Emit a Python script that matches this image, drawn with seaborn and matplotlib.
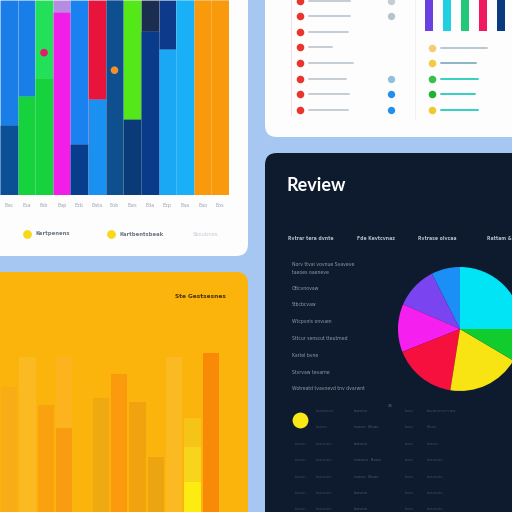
import numpy as np
import pandas as pd
import matplotlib.pyplot as plt
import seaborn as sns
from matplotlib.patches import FancyBboxPatch

sns.set_theme(style='white')
plt.rcParams['font.family'] = ['DejaVu Sans']

W = H = 512

# --- data -------------------------------------------------------------
# top-left stacked columns (percent of plot height)
col_labels = ["Eas", "Esa", "Fab", "Eap", "Ezb", "Eata", "Eob",
              "Ews", "Eda", "Ezp", "Eaa", "Eao", "Eos"]
col_top = [100] * 13
col_bottom = [36, 51, 60, 94, 26, 49, 100, 39, 84, 75, 100, 100, 100]
top_colors = ['#1a7ee8', '#1a7ee8', '#22e05a', '#b58ce0', '#1a82f0', '#e8143c', '#0d4f8f',
              '#55e818', '#1b2e50', '#0d3a8a', '#1ab0f8', '#f89a0c', '#f89a0c']
bottom_colors = ['#0b4f94', '#16d23c', '#16d23c', '#f01ee6', '#083c8c', '#1a90f0', '#0d4f8f',
                 '#0a3a78', '#0a3a8a', '#1aa8f5', '#1ab0f8', '#f89a0c', '#f89a0c']
marker_cols = ["Fab", "Eob"]
marker_vals = [73, 64]
marker_colors = ['#e8186a', '#f7902a']
legend_items = ["Kertpenens", "Kartbentsbeak", "Sbsubnes"]

# top-right list
list_line_len = [41, 41, 39, 23, 44, 37, 40, 39]
status_colors = ['#c4ccd4', '#b8c4cc', None, None, None, '#90c0dc', '#2090f0', '#2090f0']
side_dot_colors = ['#f6cc78', '#f5cc40', '#38c048', '#22b030', '#f0c830']
side_line_len = [46, 35, 37, 34, 37]
side_line_colors = ['#b8c8d4', '#8cb4c8', '#30d0c0', '#30d0c0', '#30d0c0']
mini_names = ["A", "B", "C", "D", "E"]
mini_vals = [40, 40, 40, 40, 40]
mini_colors = ['#6a40e0', '#20d0e0', '#20c878', '#f01860', '#0a3a80']

# review pie
pie_labels = ["Cyan", "Blue", "Purple", "Magenta", "Red", "Yellow", "Green"]
pie_vals = [25, 7.5, 11, 12.5, 16.5, 19, 8.5]
pie_colors = ['#00e4f5', '#1a8ff5', '#7a45f0', '#f520f0', '#f5103e', '#f8e412', '#10cc2c']
review_headers = ["Rvtrar tera dvnte", "Fde Kevtcvnaz", "Rvtrase olvcaa", "Rattam &"]
review_items = ["Norv ttvai vovnue Svaveve", "taeoes oaeneve", "Ottcvnovaw", "Stbcbcvaw",
                "Wtcpvnis onvuen", "Sttcur senscut tteutmed", "Kartel bvne",
                "Stvrvaw tevarne", "Wotreatd tvavnevd tnv dvarwnt"]
table_cells = [["", "tvatanen", "tvavnv", "tvav", "tavannevrvaw"],
               ["", "tvavn", "tvavn  Bvav", "tvav", "Bvav"],
               ["tvavn", "tvavnev", "tvavnv", "tvav", "tvavn"],
               ["tvavn", "tvavnev", "tvavnv  Bvav", "tvav", "tvavnev"],
               ["tvavn", "tvavnev", "tvavn  Bvav", "tvav", "tvavnev"],
               ["tvavn", "tvavnev", "tvavnv", "tvav", "tvavnev"],
               ["tvavn", "tvavnev", "tvavnv", "tvav", "tvavnev"]]

# bottom-left orange columns (pixel heights)
bar_names = ["Jan", "Feb", "Mar", "Apr", "May", "Jun", "Jul", "Aug", "Sep", "Oct", "Nov", "Dec"]
ghost_vals = [125, 155, 0, 155, 0, 0, 0, 0, 0, 155, 0, 0]
ghost_colors = ['#f8ac16', '#fcba22', '#fbb40c', '#fcb31e', '#fbb40c', '#fbb40c',
                '#fbb40c', '#fbb40c', '#fbb40c', '#fcba22', '#fbb40c', '#fbb40c']
solid_vals = [0, 0, 107, 84, 0, 114, 138, 110, 55, 0, 94, 159]
solid_colors = ['#fbb40c', '#fbb40c', '#f9a10e', '#f99c12', '#fbb40c', '#efa912',
                '#fa9a0c', '#f0a30e', '#eca510', '#fbb40c', '#f6c416', '#f98a08']
glow_vals = [0, 0, 0, 0, 0, 0, 0, 0, 0, 0, 65, 0]
core_vals = [0, 0, 0, 0, 0, 0, 0, 0, 0, 0, 30, 0]

# --- figure -----------------------------------------------------------
fig = plt.figure(figsize=(5.12, 5.12), dpi=100)
fig.patch.set_facecolor('#a7c7f3')
bg = fig.add_axes([0, 0, 1, 1])
bg.set_xlim(0, W)
bg.set_ylim(H, 0)
bg.axis('off')


def card(x0, y0, x1, y1, color, r=12):
    bg.add_patch(FancyBboxPatch((x0, y0), x1 - x0, y1 - y0,
                                boxstyle=f"round,pad=0,rounding_size={r}",
                                fc=color, ec='none'))


def px_axes(x0, y0, x1, y1):
    ax = fig.add_axes([x0 / W, 1 - y1 / H, (x1 - x0) / W, (y1 - y0) / H])
    ax.set_facecolor('none')
    return ax


card(-30, -30, 248, 256, '#fdfdfe')
card(265, -30, 540, 137, '#fdfdfe')
card(-30, 272, 248, 540, '#fbb40c')
card(265, 153, 540, 540, '#0e1b2f')

# 1. top-left stacked columns
ax = px_axes(0, 0, 229, 195)
sns.barplot(x=col_labels, y=col_top, hue=col_labels, palette=top_colors, legend=False,
            width=1, saturation=1, ax=ax, edgecolor=(1, 1, 1, 0.12), linewidth=0.6)
sns.barplot(x=col_labels, y=col_bottom, hue=col_labels, palette=bottom_colors, legend=False,
            width=1, saturation=1, ax=ax, edgecolor=(1, 1, 1, 0.12), linewidth=0.6)
ax.scatter([col_labels.index(c) for c in marker_cols], marker_vals, s=30,
           c=marker_colors, zorder=5, linewidths=0)
ax.set_xlim(-0.5, len(col_labels) - 0.5)
ax.set_ylim(0, 100)
ax.set_yticks([])
ax.set_xlabel('')
ax.set_ylabel('')
sns.despine(ax=ax, left=True, bottom=True)
ax.tick_params(axis='x', length=0, pad=6, labelsize=3.5, labelcolor='#9aa4b0')

for i, (lx, txt) in enumerate(zip([27, 111, 193], legend_items)):
    if i < 2:
        bg.scatter(lx, 234, s=40, color='#f8d81a', zorder=3, linewidths=0)
        bg.text(lx + 8, 234, txt, fontsize=3.8, color='#6a7480', va='center', weight='bold')
    else:
        bg.text(lx, 234, txt, fontsize=3.8, color='#c4cad2', va='center')

# 2. top-right list card
bg.plot([291, 291], [-5, 115], color='#f8d8de', lw=0.6)
bg.plot([415, 415], [-5, 120], color='#eef1f4', lw=0.6)
for i, ln in enumerate(list_line_len):
    y = 0.5 + i * 15.65
    bg.scatter(300, y, s=30, color='#e8362c', linewidths=0, zorder=3)
    bg.plot([309, 309 + ln], [y, y], color='#c4ccd4', lw=1.4, solid_capstyle='round')
    if status_colors[i]:
        bg.scatter(391, y, s=28, color=status_colors[i], linewidths=0, zorder=3)
for i, (dc, ln, lc) in enumerate(zip(side_dot_colors, side_line_len, side_line_colors)):
    y = 47.5 + i * 15.65
    bg.scatter(432, y, s=30, color=dc, linewidths=0, zorder=3)
    bg.plot([441, 441 + ln], [y, y], color=lc, lw=1.4, solid_capstyle='round')

axm = px_axes(420, 0, 510, 31)
sns.barplot(x=mini_names, y=mini_vals, hue=mini_names, palette=mini_colors, legend=False,
            width=0.45, saturation=1, ax=axm, linewidth=0, edgecolor='none')
axm.set_ylim(0, 31)
axm.axis('off')

# 3. dark review card
bg.text(286, 191, "Review", fontsize=13, color='white', weight='bold', family=['Lato', 'DejaVu Sans'])
for hx, txt in zip([288, 357, 418, 487], review_headers):
    bg.text(hx, 238, txt, fontsize=3.3, color='#b4bcc8', va='center', weight='bold')
for i, txt in enumerate(review_items):
    y = 264 + i * 16.6 if i < 2 else 288 + (i - 2) * 16.8
    if i == 1:
        y = 272
    bg.text(292, y, txt, fontsize=3.3, color='#8e98a6', va='center')

axp = px_axes(398, 267, 522, 391)
axp.pie(pie_vals, colors=pie_colors, startangle=0, counterclock=True,
        wedgeprops=dict(linewidth=0))
axp.set_xlim(-1, 1)
axp.set_ylim(-1, 1)
axp.set_aspect('equal')

bg.scatter(300, 420, s=130, color='#f8e818', linewidths=0, zorder=3)
bg.text(388, 406, "45", fontsize=3, color='#5a6678', va='center')
col_x = [295, 316, 354, 405, 421]
for r, row in enumerate(table_cells):
    y = 411 + r * 16.4
    for c, txt in enumerate(row):
        if txt:
            bg.text(col_x[c] + (6 if c == 4 else 0), y, txt, fontsize=3.0,
                    color='#3c4a5e' if c != 2 else '#4a586c', va='center')

# 4. orange column chart
axo = px_axes(0, 272, 220, 512)
for vals, cols in [(ghost_vals, ghost_colors), (solid_vals, solid_colors)]:
    sns.barplot(x=bar_names, y=vals, hue=bar_names, palette=cols, legend=False,
                width=0.88, saturation=1, ax=axo, linewidth=0, edgecolor='none')
sns.barplot(x=bar_names, y=glow_vals, hue=bar_names, legend=False, width=0.88, saturation=1,
            palette=['#f9d41c'] * 12, ax=axo, linewidth=0, edgecolor='none')
sns.barplot(x=bar_names, y=core_vals, hue=bar_names, legend=False, width=0.88, saturation=1,
            palette=['#fdec12'] * 12, ax=axo, linewidth=0, edgecolor='none')
axo.set_xlim(-0.5, len(bar_names) - 0.5)
axo.set_ylim(0, 240)
axo.axis('off')
bg.text(175, 297, "Ste Gestsesnes", fontsize=4.2, color='#4a3300', va='center', weight='bold')

fig.savefig('out.png', dpi=100, facecolor=fig.get_facecolor())
